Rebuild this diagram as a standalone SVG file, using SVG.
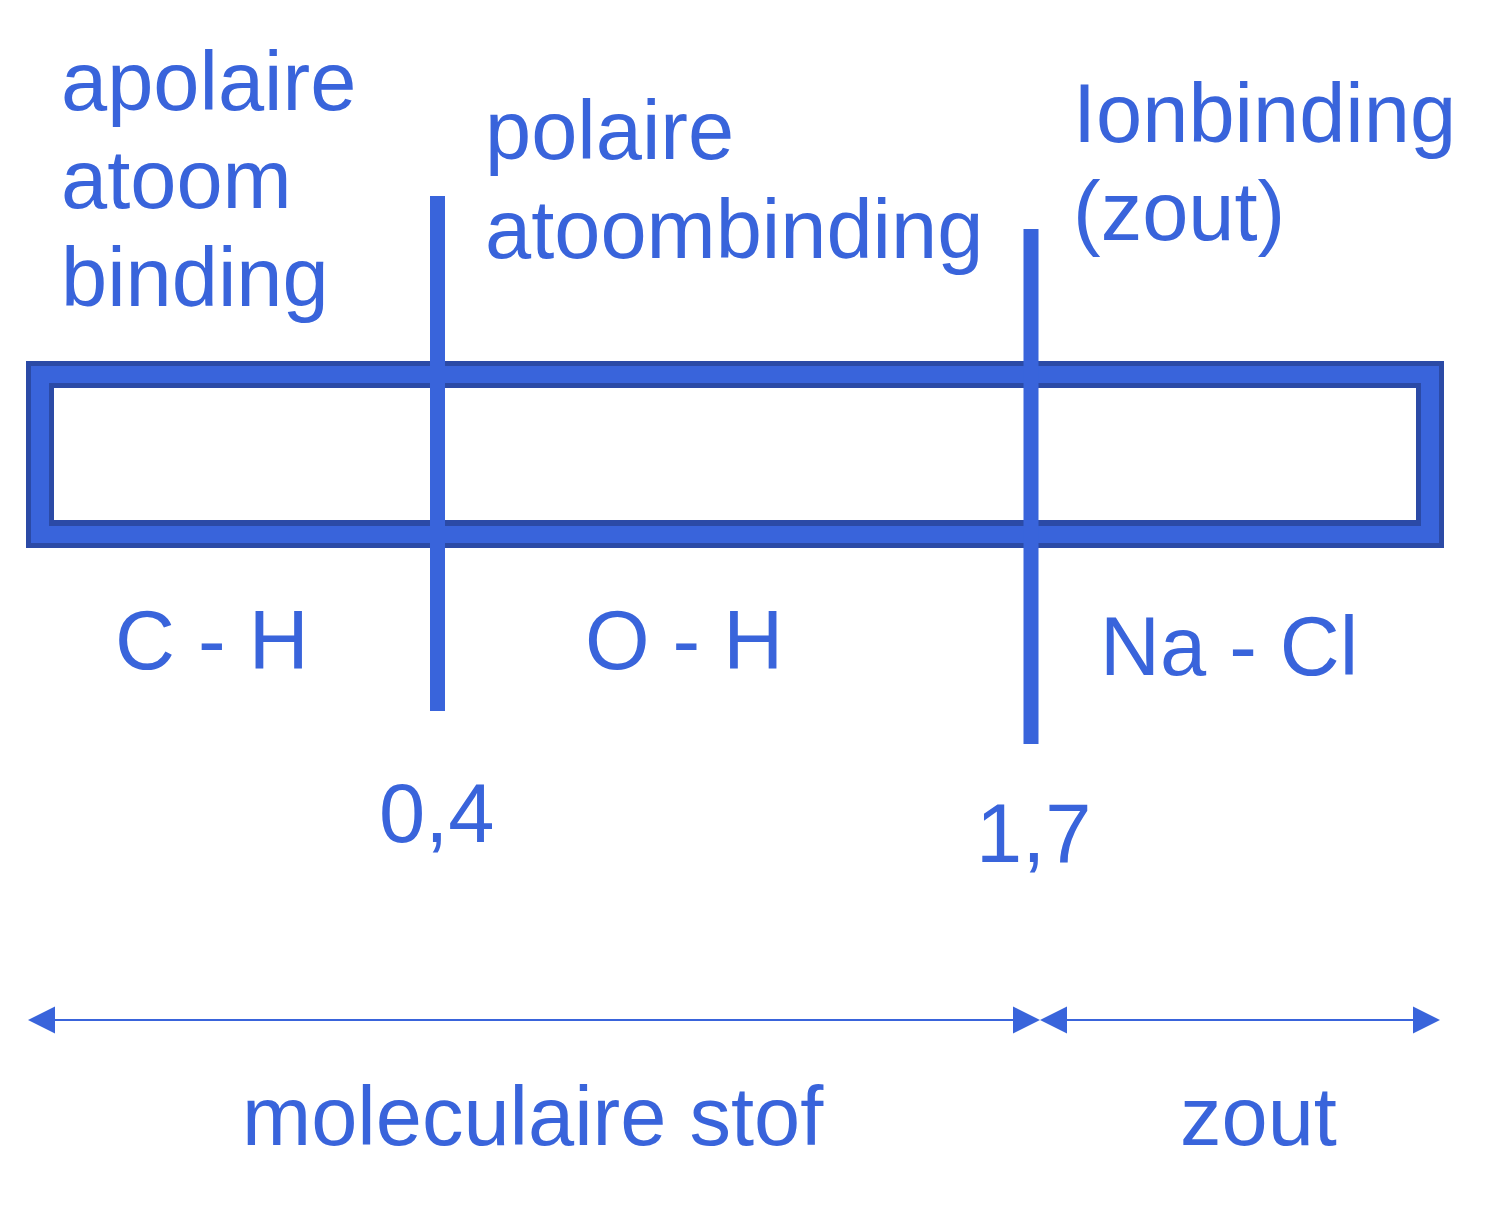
<svg xmlns="http://www.w3.org/2000/svg" width="1507" height="1219" viewBox="0 0 1507 1219">
<style>
text{font-family:"Liberation Sans",Arial,sans-serif;font-size:83px;fill:#3964db}
.tick{stroke:#3964db;stroke-width:15}
.conn{stroke:#3964db;stroke-width:2;fill:none}
.ah{fill:#3964db}
</style>
<rect width="1507" height="1219" fill="#fff"/>
<g id="bar">
<rect x="26" y="361" width="1418" height="187" fill="#2b4aa6"/>
<rect x="31" y="366" width="1408" height="177" fill="#3964db"/>
<rect x="49" y="383" width="1372" height="143" fill="#2b4aa6"/>
<rect x="54" y="388" width="1362" height="132" fill="#fff"/>
</g>
<g id="ticks">
<line class="tick" x1="437.5" y1="196" x2="437.5" y2="711"/>
<line class="tick" x1="1031" y1="229" x2="1031" y2="744"/>
</g>
<g id="labels-top">
<text x="61" y="110">apolaire</text>
<text x="61" y="208">atoom</text>
<text x="61" y="306">binding</text>
<text x="485" y="159">polaire</text>
<text x="485" y="258">atoombinding</text>
<text x="1073" y="142">Ionbinding</text>
<text x="1073" y="240">(zout)</text>
</g>
<g id="labels-bonds">
<text x="115" y="669">C - H</text>
<text x="585" y="669">O - H</text>
<text x="1100" y="675">Na - Cl</text>
</g>
<g id="labels-values">
<text x="379" y="842">0,4</text>
<text x="976" y="862">1,7</text>
</g>
<g id="connectors">
<line class="conn" x1="50" y1="1020" x2="1018" y2="1020"/>
<polygon class="ah" points="28,1020 55,1006.5 55,1033.5"/>
<polygon class="ah" points="1040,1020 1013,1006.5 1013,1033.5"/>
<line class="conn" x1="1062" y1="1020" x2="1418" y2="1020"/>
<polygon class="ah" points="1040,1020 1067,1006.5 1067,1033.5"/>
<polygon class="ah" points="1440,1020 1413,1006.5 1413,1033.5"/>
</g>
<g id="labels-bottom">
<text x="242" y="1145">moleculaire stof</text>
<text x="1180" y="1145">zout</text>
</g>
</svg>
